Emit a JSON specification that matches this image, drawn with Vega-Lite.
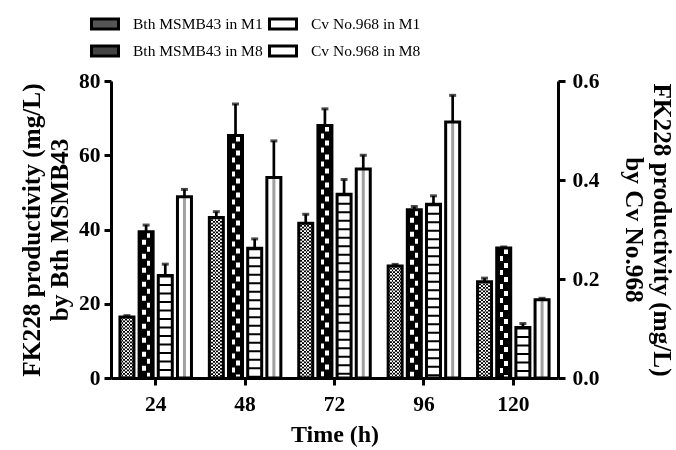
{
  "$schema": "https://vega.github.io/schema/vega-lite/v6.json",
  "width": 447,
  "height": 297,
  "autosize": {"type": "none"},
  "padding": {"left": 111, "top": 81, "right": 118, "bottom": 72},
  "background": "white",
  "config": {
    "view": {"stroke": null},
    "font": "Liberation Serif",
    "axis": {
      "domainColor": "black", "domainWidth": 3, "tickColor": "black", "tickWidth": 3, "tickSize": 7,
      "labelFont": "Liberation Serif", "labelFontWeight": "bold", "labelFontSize": 21.5, "labelColor": "black",
      "titleFont": "Liberation Serif", "titleFontWeight": "bold", "titleFontSize": 25.3, "titleColor": "black",
      "grid": false
    }
  },
  "data": {
    "values": [
      {"time": 24, "series": "Bth MSMB43 in M1", "org": "Bth", "value": 16.4, "upper": 16.8},
      {"time": 48, "series": "Bth MSMB43 in M1", "org": "Bth", "value": 43.2, "upper": 44.8},
      {"time": 72, "series": "Bth MSMB43 in M1", "org": "Bth", "value": 41.7, "upper": 44.1},
      {"time": 96, "series": "Bth MSMB43 in M1", "org": "Bth", "value": 30.2, "upper": 30.6},
      {"time": 120, "series": "Bth MSMB43 in M1", "org": "Bth", "value": 25.9, "upper": 26.9},
      {"time": 24, "series": "Bth MSMB43 in M8", "org": "Bth", "value": 39.4, "upper": 41.2},
      {"time": 48, "series": "Bth MSMB43 in M8", "org": "Bth", "value": 65.3, "upper": 73.8},
      {"time": 72, "series": "Bth MSMB43 in M8", "org": "Bth", "value": 68.0, "upper": 72.5},
      {"time": 96, "series": "Bth MSMB43 in M8", "org": "Bth", "value": 45.3, "upper": 46.2},
      {"time": 120, "series": "Bth MSMB43 in M8", "org": "Bth", "value": 35.0, "upper": 35.3},
      {"time": 24, "series": "Cv No.968 in M8", "org": "Cv", "value": 0.207, "upper": 0.230},
      {"time": 48, "series": "Cv No.968 in M8", "org": "Cv", "value": 0.262, "upper": 0.281},
      {"time": 72, "series": "Cv No.968 in M8", "org": "Cv", "value": 0.371, "upper": 0.401},
      {"time": 96, "series": "Cv No.968 in M8", "org": "Cv", "value": 0.351, "upper": 0.368},
      {"time": 120, "series": "Cv No.968 in M8", "org": "Cv", "value": 0.102, "upper": 0.110},
      {"time": 24, "series": "Cv No.968 in M1", "org": "Cv", "value": 0.366, "upper": 0.381},
      {"time": 48, "series": "Cv No.968 in M1", "org": "Cv", "value": 0.405, "upper": 0.479},
      {"time": 72, "series": "Cv No.968 in M1", "org": "Cv", "value": 0.422, "upper": 0.450},
      {"time": 96, "series": "Cv No.968 in M1", "org": "Cv", "value": 0.517, "upper": 0.571},
      {"time": 120, "series": "Cv No.968 in M1", "org": "Cv", "value": 0.158, "upper": 0.161}
    ]
  },
  "encoding": {
    "x": {
      "field": "time", "type": "ordinal",
      "scale": {"paddingInner": 0.2, "paddingOuter": 0.1},
      "axis": {"title": "Time (h)", "labelAngle": 0, "labelPadding": 8, "titlePadding": 8, "titleFontSize": 24}
    },
    "xOffset": {
      "field": "series", "type": "nominal",
      "scale": {"domain": ["Bth MSMB43 in M1", "Bth MSMB43 in M8", "Cv No.968 in M8", "Cv No.968 in M1"], "paddingInner": 0.27, "paddingOuter": 0}
    }
  },
  "layer": [
    {
      "transform": [{"filter": {"field": "org", "equal": "Bth"}}],
      "encoding": {
        "y": {
          "field": "value", "type": "quantitative",
          "scale": {"domain": [0, 80], "nice": false},
          "axis": {"values": [0, 20, 40, 60, 80], "title": ["FK228 productivity (mg/L)", "by Bth MSMB43"], "titleLineHeight": 28, "labelPadding": 4, "titlePadding": 6}
        }
      },
      "layer": [
        {
          "transform": [{"filter": {"field": "series", "equal": "Bth MSMB43 in M1"}}],
          "mark": {"type": "bar", "stroke": null, "fill": {"gradient": "linear", "x1": 0, "y1": 0, "x2": 1, "y2": 0, "stops": [
            {"offset": 0, "color": "#fff"}, {"offset": 0.125, "color": "#fff"}, {"offset": 0.125, "color": "#000"}, {"offset": 0.25, "color": "#000"},
            {"offset": 0.25, "color": "#fff"}, {"offset": 0.375, "color": "#fff"}, {"offset": 0.375, "color": "#000"}, {"offset": 0.5, "color": "#000"},
            {"offset": 0.5, "color": "#fff"}, {"offset": 0.625, "color": "#fff"}, {"offset": 0.625, "color": "#000"}, {"offset": 0.75, "color": "#000"},
            {"offset": 0.75, "color": "#fff"}, {"offset": 0.875, "color": "#fff"}, {"offset": 0.875, "color": "#000"}, {"offset": 1, "color": "#000"}
          ]}}
        },
        {
          "transform": [{"filter": {"field": "series", "equal": "Bth MSMB43 in M1"}}],
          "mark": {"type": "rule", "color": "#fff", "strokeWidth": 14, "strokeDash": [1.75, 1.75], "blend": "difference"},
          "encoding": {"y2": {"datum": 0}}
        },
        {
          "transform": [{"filter": {"field": "series", "equal": "Bth MSMB43 in M8"}}],
          "mark": {"type": "bar", "stroke": null, "fill": {"gradient": "linear", "x1": 0, "y1": 0, "x2": 1, "y2": 0, "stops": [
            {"offset": 0, "color": "#fff"}, {"offset": 0.5, "color": "#fff"}, {"offset": 0.5, "color": "#000"}, {"offset": 1, "color": "#000"}
          ]}}
        },
        {
          "transform": [{"filter": {"field": "series", "equal": "Bth MSMB43 in M8"}}],
          "mark": {"type": "rule", "color": "#fff", "strokeWidth": 14, "strokeDash": [7, 7], "blend": "difference"},
          "encoding": {"y2": {"datum": 0}}
        },
        {
          "transform": [{"filter": {"field": "series", "equal": "Bth MSMB43 in M8"}}],
          "mark": {"type": "bar", "stroke": null, "blend": "multiply", "fill": {"gradient": "linear", "x1": 0, "y1": 0, "x2": 1, "y2": 0, "stops": [
            {"offset": 0, "color": "#000"}, {"offset": 0.214, "color": "#000"}, {"offset": 0.214, "color": "#fff"}, {"offset": 0.464, "color": "#fff"},
            {"offset": 0.464, "color": "#000"}, {"offset": 0.536, "color": "#000"}, {"offset": 0.536, "color": "#fff"}, {"offset": 0.786, "color": "#fff"},
            {"offset": 0.786, "color": "#000"}, {"offset": 1, "color": "#000"}
          ]}}
        },
        {
          "transform": [{"filter": {"field": "series", "equal": "Bth MSMB43 in M8"}}],
          "mark": {"type": "rule", "color": "#000", "strokeWidth": 14, "strokeDash": [2, 5], "strokeDashOffset": 1},
          "encoding": {"y2": {"datum": 0}}
        },
        {
          "mark": {"type": "bar", "fillOpacity": 0, "stroke": "black", "strokeWidth": 3},
          "encoding": {
            "fill": {
              "field": "series", "type": "nominal",
              "scale": {"domain": ["Bth MSMB43 in M1", "Bth MSMB43 in M8", "Cv No.968 in M1", "Cv No.968 in M8"], "range": ["#555", "#444", "#fff", "#fff"]},
              "legend": {
                "orient": "none", "legendX": -21, "legendY": -72, "columns": 2, "title": null,
                "values": ["Bth MSMB43 in M1", "Bth MSMB43 in M8", "Cv No.968 in M1", "Cv No.968 in M8"],
                "symbolType": "M-1,-0.37H1V0.37H-1Z", "symbolSize": 729, "symbolStrokeColor": "black", "symbolStrokeWidth": 3,
                "labelFont": "Liberation Serif", "labelFontSize": 15.5, "labelColor": "black", "labelOffset": 13, "labelLimit": 300,
                "rowPadding": 1, "columnPadding": 0, "padding": 0,
                "encode": {"symbols": {"update": {
                  "fill": {"signal": "datum.value === 'Bth MSMB43 in M1' ? '#555' : datum.value === 'Bth MSMB43 in M8' ? {gradient: 'linear', x1: 0, y1: 0, x2: 1, y2: 0, stops: [{offset: 0, color: '#000'}, {offset: 0.2, color: '#000'}, {offset: 0.2, color: '#fff'}, {offset: 0.33, color: '#fff'}, {offset: 0.33, color: '#000'}, {offset: 0.43, color: '#000'}, {offset: 0.43, color: '#fff'}, {offset: 0.57, color: '#fff'}, {offset: 0.57, color: '#000'}, {offset: 0.67, color: '#000'}, {offset: 0.67, color: '#fff'}, {offset: 0.8, color: '#fff'}, {offset: 0.8, color: '#000'}, {offset: 1, color: '#000'}]} : datum.value === 'Cv No.968 in M8' ? {gradient: 'linear', x1: 0, y1: 0, x2: 1, y2: 0, stops: [{offset: 0, color: '#fff'}, {offset: 0.31, color: '#fff'}, {offset: 0.31, color: '#000'}, {offset: 0.37, color: '#000'}, {offset: 0.37, color: '#fff'}, {offset: 0.63, color: '#fff'}, {offset: 0.63, color: '#000'}, {offset: 0.69, color: '#000'}, {offset: 0.69, color: '#fff'}, {offset: 1, color: '#fff'}]} : '#fff'"},
                  "fillOpacity": {"value": 1},
                  "opacity": {"value": 1},
                  "stroke": {"value": "#000"},
                  "strokeWidth": {"value": 3},
                  "strokeOpacity": {"value": 1}
                }}}
              }
            }
          }
        },
        {
          "mark": {"type": "rule", "color": "black", "strokeWidth": 2.7},
          "encoding": {"y2": {"field": "upper"}}
        },
        {
          "mark": {"type": "tick", "color": "black", "size": 7, "thickness": 3},
          "encoding": {"y": {"field": "upper", "type": "quantitative", "title": ["FK228 productivity (mg/L)", "by Bth MSMB43"]}}
        }
      ]
    },
    {
      "transform": [{"filter": {"field": "org", "equal": "Cv"}}],
      "encoding": {
        "y": {
          "field": "value", "type": "quantitative",
          "scale": {"domain": [0, 0.6], "nice": false},
          "axis": {"orient": "right", "values": [0, 0.2, 0.4, 0.6], "format": ".1f", "title": ["FK228 productivity (mg/L)", "by Cv No.968"], "titleLineHeight": 28, "labelPadding": 7, "titlePadding": 22}
        }
      },
      "layer": [
        {"mark": {"type": "bar", "stroke": null, "fill": "#fff"}},
        {
          "transform": [{"filter": {"field": "series", "equal": "Cv No.968 in M8"}}],
          "mark": {"type": "rule", "color": "#000", "strokeWidth": 14, "strokeDash": [2, 6.5]},
          "encoding": {"y2": {"datum": 0}}
        },
        {
          "transform": [{"filter": {"field": "series", "equal": "Cv No.968 in M1"}}],
          "mark": {"type": "rule", "color": "#a0a0a0", "strokeWidth": 3},
          "encoding": {"y2": {"datum": 0}}
        },
        {
          "mark": {"type": "bar", "fillOpacity": 0, "stroke": "black", "strokeWidth": 3},
          "encoding": {
            "fill": {
              "field": "series", "type": "nominal",
              "scale": {"domain": ["Bth MSMB43 in M1", "Bth MSMB43 in M8", "Cv No.968 in M1", "Cv No.968 in M8"], "range": ["#555", "#444", "#fff", "#fff"]}
            }
          }
        },
        {
          "mark": {"type": "rule", "color": "black", "strokeWidth": 2.7},
          "encoding": {"y2": {"field": "upper"}}
        },
        {
          "mark": {"type": "tick", "color": "black", "size": 7, "thickness": 3},
          "encoding": {"y": {"field": "upper", "type": "quantitative", "title": ["FK228 productivity (mg/L)", "by Cv No.968"]}}
        }
      ]
    }
  ],
  "resolve": {"scale": {"y": "independent"}}
}
